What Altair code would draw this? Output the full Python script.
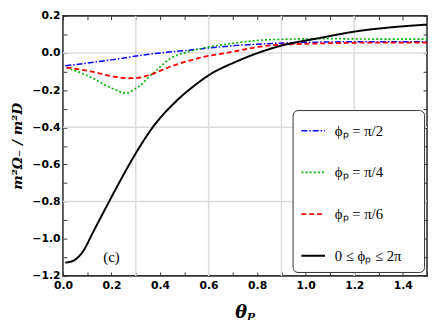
import altair as alt
import pandas as pd

# ---- data ----
series_names = ["ϕₚ = π/2", "ϕₚ = π/4", "ϕₚ = π/6", "0  ≤  ϕₚ  ≤  2π"]
series_colors = ["#0000ff", "#00b400", "#ff0000", "#000000"]
series_dashes = [[6, 2, 1.5, 2], [2, 2.2], [5, 3], [1, 0]]
series_widths = [1.5, 2.0, 1.5, 1.3]

blue_x = [0.01, 0.1, 0.2, 0.294, 0.347, 0.42, 0.509, 0.6, 0.711, 0.873, 1.075, 1.3, 1.5]
blue_y = [-0.069, -0.054, -0.037, -0.018, -0.008, 0.003, 0.014, 0.027, 0.04, 0.052, 0.059, 0.061, 0.061]

green_x = [0.015, 0.06, 0.118, 0.186, 0.23, 0.26, 0.29, 0.307, 0.327, 0.34, 0.388, 0.442,
           0.509, 0.576, 0.671, 0.873, 1.075, 1.3, 1.5]
green_y = [-0.08, -0.1, -0.133, -0.18, -0.205, -0.216, -0.2, -0.185, -0.165, -0.147, -0.09, -0.03,
           0.004, 0.026, 0.047, 0.073, 0.077, 0.075, 0.075]

red_x = [0.015, 0.118, 0.213, 0.27, 0.307, 0.347, 0.442, 0.576, 0.671, 0.873, 1.075, 1.3, 1.5]
red_y = [-0.078, -0.1, -0.128, -0.136, -0.134, -0.122, -0.074, -0.022, 0.0, 0.043, 0.052, 0.056, 0.056]

black_x = [0.01, 0.04, 0.085, 0.12, 0.19, 0.235, 0.3, 0.368, 0.462, 0.55, 0.604, 0.711, 0.873,
           1.075, 1.21, 1.35, 1.5]
black_y = [-1.128, -1.12, -1.063, -0.975, -0.8, -0.69, -0.54, -0.403, -0.265, -0.167, -0.117,
           -0.048, 0.03, 0.085, 0.117, 0.138, 0.153]

grid_x_values = [0.3, 0.6, 0.9, 1.2]
grid_y_values = [-0.8, -0.4, 0.0]
x_tick_values = [round(0.1 * i, 1) for i in range(16)]
y_tick_values = [round(-1.2 + 0.1 * i, 1) for i in range(15)]

ann_x = [0.2]
ann_y = [-1.1]
ann_text = ["(c)"]

# ---- tables ----
rows = []
for name, xs, ys in zip(series_names, [blue_x, green_x, red_x, black_x],
                        [blue_y, green_y, red_y, black_y]):
    for i, (a, b) in enumerate(zip(xs, ys)):
        rows.append({"series": name, "x": a, "y": b, "order": i})
lines_df = pd.DataFrame(rows)
gx_df = pd.DataFrame({"x": grid_x_values})
gy_df = pd.DataFrame({"y": grid_y_values})
ann_df = pd.DataFrame({"x": ann_x, "y": ann_y, "text": ann_text})

xscale = alt.Scale(domain=[0, 1.5], nice=False, zero=False)
yscale = alt.Scale(domain=[-1.2, 0.2], nice=False, zero=False)

label_expr = "round(datum.value*10) % 2 == 0 ? format(datum.value, '.1f') : ''"
frame_col = "#333333"

legend = alt.Legend(
    orient="none", legendX=234, legendY=96, title=None,
    strokeColor=frame_col, fillColor="white", cornerRadius=5, padding=8,
    rowPadding=21.5, symbolType="stroke", symbolSize=576, symbolStrokeWidth=1.8,
    labelFont="Liberation Serif", labelFontSize=15, labelOffset=9, labelLimit=300,
    labelColor="black",
)

x_main = alt.Axis(
    orient="bottom", values=x_tick_values, labelExpr=label_expr, offset=-4, tickSize=4,
    tickColor=frame_col, domain=False, grid=False, labelFont="DejaVu Sans",
    labelFontWeight="bold", labelFontSize=11, labelPadding=4, labelFlush=False,
    labelOverlap=False, labelColor="black",
    title="θₚ", titleFont="DejaVu Serif", titleFontStyle="italic", titleFontWeight="bold",
    titleFontSize=18, titlePadding=13, titleColor="black",
)
y_main = alt.Axis(
    orient="left", values=y_tick_values, labelExpr=label_expr, offset=-4, tickSize=4,
    tickColor=frame_col, domain=False, grid=False, labelFont="DejaVu Sans",
    labelFontWeight="bold", labelFontSize=11, labelPadding=3, labelFlush=False,
    labelOverlap=False, labelColor="black",
    title="m²Ω₋ / m²D", titleFont="DejaVu Serif", titleFontStyle="italic",
    titleFontWeight="bold", titleFontSize=14, titlePadding=8, titleColor="black",
)
x_top = alt.Axis(orient="top", values=x_tick_values, offset=-4, tickSize=4, tickColor=frame_col,
                 labels=False, domain=False, grid=False, title=None)
y_right = alt.Axis(orient="right", values=y_tick_values, offset=-4, tickSize=4, tickColor=frame_col,
                   labels=False, domain=False, grid=False, title=None)

grid_x = alt.Chart(gx_df).mark_rule(color="#dcdcdc", strokeWidth=1.5).encode(
    x=alt.X("x:Q", scale=xscale, axis=x_top)
)
grid_y = alt.Chart(gy_df).mark_rule(color="#dcdcdc", strokeWidth=1.5).encode(
    y=alt.Y("y:Q", scale=yscale, axis=y_right)
)

lines = alt.Chart(lines_df).mark_line(interpolate="monotone").encode(
    x=alt.X("x:Q", scale=xscale, axis=x_main),
    y=alt.Y("y:Q", scale=yscale, axis=y_main),
    color=alt.Color("series:N", scale=alt.Scale(domain=series_names, range=series_colors),
                    legend=legend, sort=series_names),
    strokeDash=alt.StrokeDash("series:N", scale=alt.Scale(domain=series_names, range=series_dashes),
                              legend=legend, sort=series_names),
    strokeWidth=alt.StrokeWidth("series:N", scale=alt.Scale(domain=series_names, range=series_widths),
                                legend=None),
    order="order:Q",
)

ann = alt.Chart(ann_df).mark_text(font="Liberation Serif", fontSize=15, color="black").encode(
    x=alt.X("x:Q", scale=xscale, axis=None),
    y=alt.Y("y:Q", scale=yscale, axis=None),
    text="text:N",
)

chart = alt.layer(grid_x, grid_y, lines, ann).resolve_axis(
    x="independent", y="independent"
).properties(
    width=371, height=265,
    padding={"left": 56, "top": 5, "right": 1, "bottom": 46},
    autosize=alt.AutoSizeParams(type="none"),
    background="white",
).configure_view(stroke=frame_col, strokeWidth=1.6)

chart.save("out.html", embed_options={"renderer": "svg", "actions": False})
